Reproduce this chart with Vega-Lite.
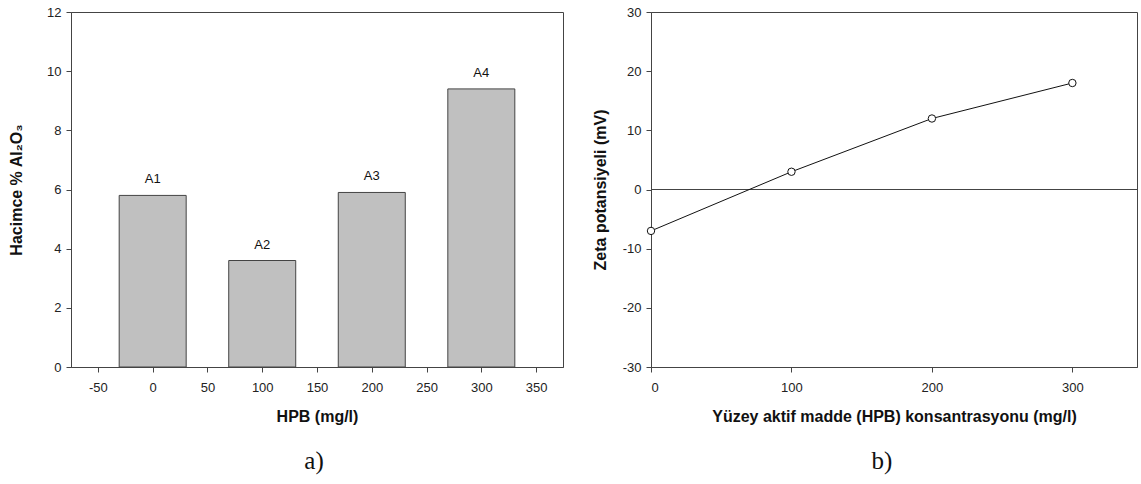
{
  "$schema": "https://vega.github.io/schema/vega-lite/v6.json",
  "background": "white",
  "padding": {"left": 8, "top": 5, "right": 0, "bottom": 0},
  "spacing": 88,
  "bounds": "flush",
  "config": {
    "font": "Liberation Sans",
    "view": {"stroke": "#444", "strokeWidth": 1},
    "axis": {
      "grid": false,
      "domainColor": "#444",
      "tickColor": "#444",
      "labelColor": "#222",
      "labelFontSize": 13,
      "labelFont": "Liberation Sans",
      "titleFont": "Liberation Sans",
      "titleFontSize": 16,
      "titleFontWeight": "bold",
      "titleColor": "#111",
      "tickSize": 5,
      "labelExpr": "replace(datum.label, '−', '-')"
    },
    "axisY": {"titlePadding": 22, "labelPadding": 5},
    "axisX": {"titlePadding": 14, "labelPadding": 9},
    "title": {"font": "Liberation Serif", "fontSize": 25, "fontWeight": "normal", "color": "#111", "orient": "bottom", "anchor": "middle", "offset": 25}
  },
  "hconcat": [
    {
      "width": 492,
      "height": 355,
      "title": {"text": "a)", "dx": -3},
      "data": {"values": [
        {"hpb": 0, "v": 5.8, "label": "A1"},
        {"hpb": 100, "v": 3.6, "label": "A2"},
        {"hpb": 200, "v": 5.9, "label": "A3"},
        {"hpb": 300, "v": 9.4, "label": "A4"}
      ]},
      "layer": [
        {
          "mark": {"type": "bar", "orient": "vertical", "size": 67, "fill": "#c0c0c0", "stroke": "#444", "strokeWidth": 1},
          "encoding": {
            "x": {"field": "hpb", "type": "quantitative",
                  "scale": {"domain": [-70, 370], "nice": false, "zero": false},
                  "axis": {"values": [-50, 0, 50, 100, 150, 200, 250, 300, 350], "title": "HPB (mg/l)"}},
            "y": {"field": "v", "type": "quantitative", "stack": null,
                  "scale": {"domain": [0, 12], "nice": false},
                  "axis": {"values": [0, 2, 4, 6, 8, 10, 12], "title": "Hacimce % Al₂O₃"}}
          }
        },
        {
          "mark": {"type": "text", "dy": -16, "fontSize": 13, "color": "#111", "font": "Liberation Sans"},
          "encoding": {
            "x": {"field": "hpb", "type": "quantitative"},
            "y": {"field": "v", "type": "quantitative", "stack": null},
            "text": {"field": "label"}
          }
        }
      ]
    },
    {
      "width": 486,
      "height": 355,
      "title": {"text": "b)", "dx": -12},
      "layer": [
        {
          "data": {"values": [{"z": 0}]},
          "mark": {"type": "rule", "color": "#444", "strokeWidth": 1},
          "encoding": {"y": {"field": "z", "type": "quantitative"}}
        },
        {
          "data": {"name": "zeta", "values": [
            {"c": 0, "mv": -7},
            {"c": 100, "mv": 3},
            {"c": 200, "mv": 12},
            {"c": 300, "mv": 18}
          ]},
          "mark": {"type": "line", "color": "#111", "strokeWidth": 1},
          "encoding": {
            "x": {"field": "c", "type": "quantitative",
                  "scale": {"domain": [0, 346], "nice": false, "zero": false},
                  "axis": {"values": [0, 100, 200, 300], "title": "Yüzey aktif madde (HPB) konsantrasyonu (mg/l)"}},
            "y": {"field": "mv", "type": "quantitative",
                  "scale": {"domain": [-30, 30], "nice": false},
                  "axis": {"values": [-30, -20, -10, 0, 10, 20, 30], "title": "Zeta potansiyeli (mV)", "titlePadding": 14}}
          }
        },
        {
          "data": {"name": "zeta"},
          "mark": {"type": "point", "shape": "circle", "filled": true, "fill": "white", "stroke": "#111", "strokeWidth": 1, "size": 55, "opacity": 1},
          "encoding": {
            "x": {"field": "c", "type": "quantitative"},
            "y": {"field": "mv", "type": "quantitative"}
          }
        }
      ]
    }
  ]
}
